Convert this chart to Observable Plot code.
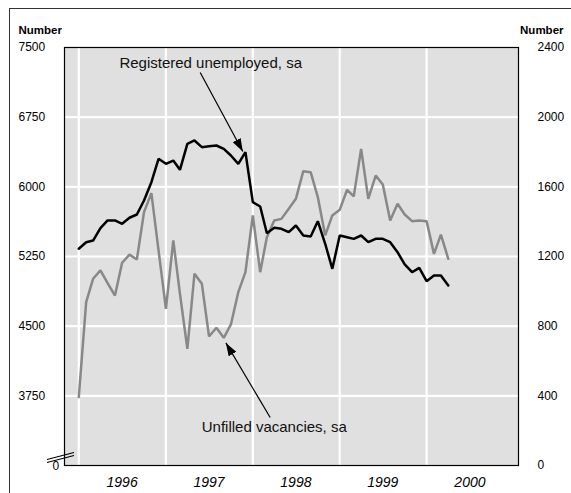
<!DOCTYPE html>
<html>
<head>
<meta charset="utf-8">
<script src="https://cdn.jsdelivr.net/npm/d3@7"></script>
<script src="https://cdn.jsdelivr.net/npm/@observablehq/plot@0.6"></script>
<style>
  html, body { margin: 0; padding: 0; background: white; overflow: hidden; }
  #wrap { position: relative; width: 571px; height: 493px; }
  #border { position: absolute; left: 9px; top: 8px; width: 700px; height: 700px;
            border-top: 1.5px solid #333; border-left: 1.5px solid #333; pointer-events: none; }
  #chart { position: absolute; left: 0; top: 0; }
</style>
</head>
<body>
<div id="wrap"><div id="chart"></div><div id="border"></div></div>
<script>
// Monthly series, January 1996 to April 2000
const startMonth = "1996-01-01";
const unemployed = [5333,5404,5422,5555,5638,5638,5602,5667,5702,5853,
  6050,6302,6248,6283,6183,6463,6499,6427,6438,6445,
  6409,6337,6248,6373,5835,5788,5501,5559,5548,5512,
  5584,5476,5465,5630,5387,5117,5476,5458,5440,5476,
  5404,5440,5440,5404,5296,5164,5081,5128,4984,5045,5045,4938];
const vacancies = [392,938,1072,1120,1047,976,1164,1211,1183,1455,
  1564,1235,900,1292,986,670,1101,1043,741,791,
  733,810,995,1110,1436,1110,1311,1407,1416,1474,
  1531,1690,1684,1541,1321,1436,1468,1583,1545,1818,
  1531,1665,1613,1407,1503,1441,1403,1407,1403,1215,1326,1187];

const years = [1996, 1997, 1998, 1999, 2000];
const leftTicks = [3750, 4500, 5250, 6000, 6750, 7500];
const leftBreakValue = 3000;      // shown as "0" (broken axis)
const rightTicks = [0, 400, 800, 1200, 1600, 2000, 2400];
const leftDomain = [3000, 7500];
const rightDomain = [0, 2400];
const xDomain = ["1995-11-02", "2001-01-21"];

const notes = [
  {label: "Registered unemployed, sa", date: "1997-07-08", value: 7330},
  {label: "Unfilled vacancies, sa", date: "1998-04-01", value: 3410}
];
const arrows = [
  {x1: "1997-05-25", y1: 7231, x2: "1997-11-20", y2: 6380},
  {x1: "1998-03-15", y1: 3517, x2: "1997-09-10", y2: 4320}
];

// ---- build ----
const k = (leftDomain[1] - leftDomain[0]) / (rightDomain[1] - rightDomain[0]);
const toLeft = v => leftDomain[0] + (v - rightDomain[0]) * k;
const start = new Date(startMonth);
const data = unemployed.map((u, i) => ({
  date: d3.utcMonth.offset(start, i), u, v: vacancies[i]
}));
const yearStarts = years.map(y => new Date(Date.UTC(y, 0, 1)));
const yearMids = years.map(y => new Date(Date.UTC(y, 6, 1)));
const noteData = notes.map(n => ({...n, date: new Date(n.date)}));
const arrowData = arrows.map(a => ({...a, x1: new Date(a.x1), x2: new Date(a.x2)}));

const chart = Plot.plot({
  width: 571, height: 493,
  marginLeft: 64, marginRight: 53, marginTop: 47, marginBottom: 28,
  style: {fontFamily: "'Liberation Sans', Arial, sans-serif", fontSize: "12px", background: "white", color: "black"},
  x: {type: "utc", domain: xDomain.map(d => new Date(d))},
  y: {domain: leftDomain},
  marks: [
    Plot.frame({fill: "#e0e0e0", stroke: "none"}),
    Plot.ruleY(leftTicks.slice(0, -1), {stroke: "white", strokeWidth: 2.2}),
    Plot.ruleX(yearStarts, {stroke: "white", strokeWidth: 2.2}),
    Plot.line(data, {x: "date", y: d => toLeft(d.v), stroke: "#888888", strokeWidth: 2.5, strokeLinejoin: "miter"}),
    Plot.line(data, {x: "date", y: "u", stroke: "black", strokeWidth: 2.5, strokeLinejoin: "miter"}),
    Plot.frame({stroke: "black", strokeWidth: 1.2}),
    Plot.axisY(leftTicks, {anchor: "left", tickSize: 0, tickPadding: 46, textAnchor: "start", fontSize: 12,
      tickFormat: d => String(d)}),
    Plot.text([leftBreakValue], {y: d => d, frameAnchor: "left", dx: -12, dy: 1, text: () => "0", fontSize: 12}),
    Plot.axisY(rightTicks.map(toLeft), {anchor: "right", tickSize: 0, tickPadding: 19, textAnchor: "start",
      tickFormat: (d, i) => String(rightTicks[i]), fontSize: 12}),
    Plot.axisX(yearMids, {anchor: "bottom", tickSize: 0, tickPadding: 12, fontSize: 14, fontStyle: "italic",
      tickFormat: d => String(d.getUTCFullYear())}),
    Plot.text(["Number"], {frameAnchor: "top-left", dx: -46, dy: -22, textAnchor: "start", fontWeight: "bold", fontSize: 11.5}),
    Plot.text(["Number"], {frameAnchor: "top-right", dx: 45, dy: -22, textAnchor: "end", fontWeight: "bold", fontSize: 11.5}),
    Plot.link(arrowData, {x1: "x1", y1: "y1", x2: "x2", y2: "y2", stroke: "black", strokeWidth: 1.2}),
    Plot.text(noteData, {x: "date", y: "value", text: "label", fontSize: 15, fill: "#111"})
  ]
});
document.getElementById("chart").appendChild(chart);

// filled arrowheads
const svg = d3.select(chart);
const defs = svg.insert("defs", ":first-child");
defs.append("marker")
  .attr("id", "ahead").attr("markerUnits", "userSpaceOnUse")
  .attr("viewBox", "0 0 13 9").attr("refX", 13).attr("refY", 4.5)
  .attr("markerWidth", 13).attr("markerHeight", 9).attr("orient", "auto")
  .append("path").attr("d", "M0,0L13,4.5L0,9Z").attr("fill", "black");
svg.selectAll('g[aria-label="link"] path').attr("marker-end", "url(#ahead)");

// axis-break symbol at the bottom of the left scale
const ys = chart.scale("y");
const yb = ys.apply(leftBreakValue);
const brk = svg.append("g").attr("stroke", "black").attr("stroke-width", 1.2);
[-9.5, -6.5].forEach(off => {
  brk.append("line").attr("x1", 47).attr("y1", yb + off + 4).attr("x2", 74).attr("y2", yb + off - 3);
});
</script>
</body>
</html>
